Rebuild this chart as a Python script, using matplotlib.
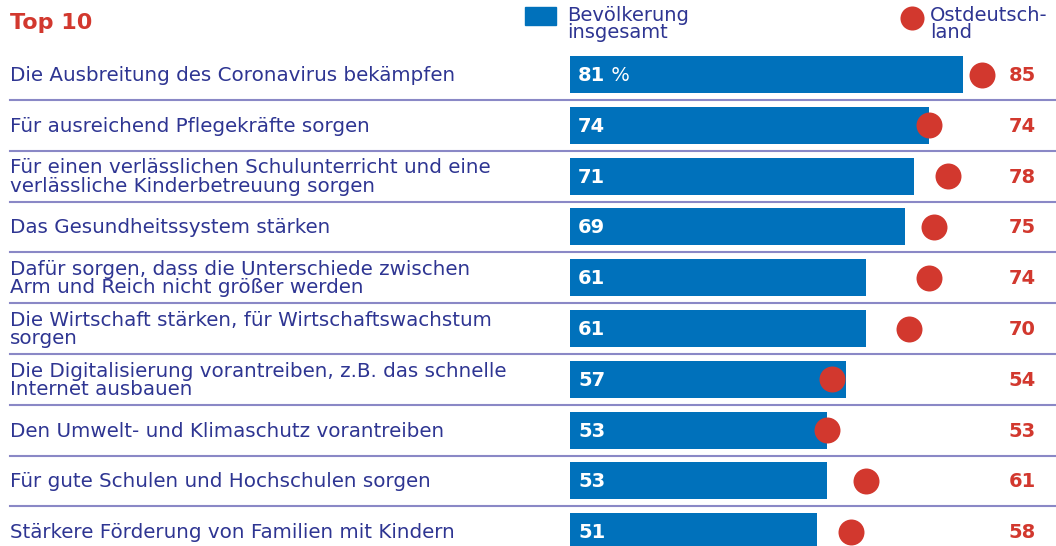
import matplotlib
matplotlib.use("Agg")
import matplotlib.pyplot as plt

# data
labels = [
    "Die Ausbreitung des Coronavirus bekämpfen",
    "Für ausreichend Pflegekräfte sorgen",
    "Für einen verlässlichen Schulunterricht und eine\nverlässliche Kinderbetreuung sorgen",
    "Das Gesundheitssystem stärken",
    "Dafür sorgen, dass die Unterschiede zwischen\nArm und Reich nicht größer werden",
    "Die Wirtschaft stärken, für Wirtschaftswachstum\nsorgen",
    "Die Digitalisierung vorantreiben, z.B. das schnelle\nInternet ausbauen",
    "Den Umwelt- und Klimaschutz vorantreiben",
    "Für gute Schulen und Hochschulen sorgen",
    "Stärkere Förderung von Familien mit Kindern",
]
gesamt = [81, 74, 71, 69, 61, 61, 57, 53, 53, 51]
ost = [85, 74, 78, 75, 74, 70, 54, 53, 61, 58]

BLUE = "#0071bb"
RED = "#d2382e"
TEXT = "#2e3592"
LINE = "#8a88c6"

W, H = 1056, 546
fig = plt.figure(figsize=(W / 100, H / 100), dpi=100)
ax = fig.add_axes([0, 0, 1, 1])
ax.axis("off")

# pixel layout -> data space
px_per_unit = 4.85
x0 = 570
pitch = 50.8
y_first = 74.5
ax.set_xlim(-x0 / px_per_unit, (W - x0) / px_per_unit)
ax.set_ylim((H - y_first) / pitch, -y_first / pitch)

def px_x(p):
    return (p - x0) / px_per_unit

rows = range(len(labels))
ax.barh(list(rows), gesamt, height=37 / pitch, left=0, color=BLUE, zorder=2)
ax.scatter(ost, list(rows), s=350, color=RED, zorder=3, linewidths=0)

for i in rows:
    ax.text(px_x(10), i + 0.02, labels[i], va="center", ha="left", fontsize=14.3,
            color=TEXT, linespacing=0.95)
    ax.text(px_x(1036), i + 0.02, str(ost[i]), va="center", ha="right",
            fontsize=14, color=RED, fontweight="bold")
    if i == 0:
        t = ax.text(px_x(578), i + 0.02, f"{gesamt[i]}", va="center", ha="left",
                    fontsize=14, color="white", fontweight="bold")
        ax.annotate(" %", xycoords=t, xy=(1, 0.5), va="center", ha="left",
                    fontsize=14, color="white")
    else:
        ax.text(px_x(578), i + 0.02, str(gesamt[i]), va="center", ha="left",
                fontsize=14, color="white", fontweight="bold")
    if i < len(labels) - 1:
        ax.axhline(i + 0.5, xmin=10 / W, xmax=1, color=LINE, lw=1.5, zorder=1)

# title
fig.text(10 / W, 1 - 23 / H, "Top 10", fontsize=16, fontweight="bold",
         color=RED, va="center", ha="left")

# legend
fig.patches.append(plt.Rectangle((525 / W, 1 - 25 / H), 31 / W, 18 / H,
                                 transform=fig.transFigure, color=BLUE))
fig.text(567 / W, 1 - 24 / H, "Bevölkerung\ninsgesamt", fontsize=14,
         color=TEXT, va="center", ha="left", linespacing=0.92)
ax.scatter([px_x(912)], [(18 - y_first) / pitch], s=300, color=RED,
           linewidths=0, clip_on=False)
fig.text(930 / W, 1 - 24 / H, "Ostdeutsch-\nland", fontsize=14,
         color=TEXT, va="center", ha="left", linespacing=0.92)

fig.savefig("out.png", dpi=100)
